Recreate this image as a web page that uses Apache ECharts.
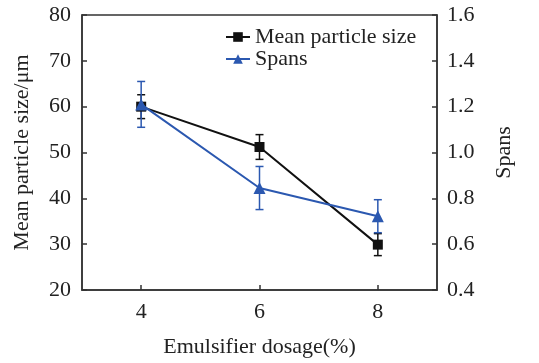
<!DOCTYPE html>
<html><head><meta charset="utf-8">
<script src="https://cdn.jsdelivr.net/npm/echarts@6/dist/echarts.min.js"></script>
<style>html,body{margin:0;padding:0;background:#fff}#c{width:539px;height:363px}</style>
</head><body><div id="c"></div>
<script>
const dosage = [4, 6, 8];
const xTicks = [4, 6, 8];
const meanSize = [60, 51.2, 29.9];
const meanSizeErr = [2.6, 2.7, 2.4];
const spans = [1.21, 0.845, 0.722];
const spansErr = [0.10, 0.094, 0.072];
const leftTicks = [20, 30, 40, 50, 60, 70, 80];
const rightTicks = [0.4, 0.6, 0.8, 1.0, 1.2, 1.4, 1.6];

const FONT = 'Liberation Serif';
const FS = 22;
const BLUE = '#2b58b0';

function errSeries(name, vals, errs, color, yIdx) {
  return {
    name: name + '_err', type: 'custom', yAxisIndex: yIdx, silent: true, z: 1,
    data: dosage.map((d, i) => [d, vals[i] - errs[i], vals[i] + errs[i]]),
    renderItem: function (params, api) {
      const lo = api.coord([api.value(0), api.value(1)]);
      const hi = api.coord([api.value(0), api.value(2)]);
      const w = 4;
      const st = { stroke: color, lineWidth: 1.5 };
      return { type: 'group', children: [
        { type: 'line', shape: { x1: lo[0], y1: lo[1], x2: hi[0], y2: hi[1] }, style: st },
        { type: 'line', shape: { x1: lo[0] - w, y1: lo[1], x2: lo[0] + w, y2: lo[1] }, style: st },
        { type: 'line', shape: { x1: hi[0] - w, y1: hi[1], x2: hi[0] + w, y2: hi[1] }, style: st }
      ]};
    }
  };
}

const chart = echarts.init(document.getElementById('c'), null, { renderer: 'canvas' });
chart.setOption({
  animation: false,
  textStyle: { fontFamily: FONT },
  grid: { left: 82, right: 102, top: 15, bottom: 72, show: true, borderColor: '#333', borderWidth: 1.5, backgroundColor: 'transparent' },
  legend: {
    orient: 'vertical', left: 220, top: 21, itemWidth: 24, itemHeight: 12, itemGap: 0,
    textStyle: { fontFamily: FONT, fontSize: FS, color: '#222' },
    data: ['Mean particle size', 'Spans']
  },
  xAxis: {
    type: 'value', min: 3, max: 9, interval: 1,
    name: 'Emulsifier dosage(%)', nameLocation: 'middle', nameGap: 46,
    nameTextStyle: { fontFamily: FONT, fontSize: FS, color: '#222' },
    axisLine: { show: true, lineStyle: { color: '#333', width: 1.5 } },
    axisTick: { show: true, inside: true, length: 5, customValues: xTicks, lineStyle: { color: '#333', width: 1.5 } },
    axisLabel: { customValues: xTicks, fontFamily: FONT, fontSize: FS, color: '#222', margin: 11 },
    splitLine: { show: false }
  },
  yAxis: [{
    type: 'value', min: 20, max: 80, interval: 10, position: 'left',
    name: 'Mean particle size/μm', nameLocation: 'middle', nameGap: 49, nameRotate: 90,
    nameTextStyle: { fontFamily: FONT, fontSize: FS, color: '#222' },
    axisLine: { show: true, lineStyle: { color: '#333', width: 1.5 } },
    axisTick: { show: true, inside: true, length: 5, lineStyle: { color: '#333', width: 1.5 } },
    axisLabel: { fontFamily: FONT, fontSize: FS, color: '#222', margin: 11 },
    splitLine: { show: false }
  }, {
    type: 'value', min: 0.4, max: 1.6, interval: 0.2, position: 'right',
    name: 'Spans', nameLocation: 'middle', nameGap: 56, nameRotate: 90,
    nameTextStyle: { fontFamily: FONT, fontSize: FS, color: '#222' },
    axisLine: { show: true, lineStyle: { color: '#333', width: 1.5 } },
    axisTick: { show: true, inside: true, length: 5, lineStyle: { color: '#333', width: 1.5 } },
    axisLabel: { fontFamily: FONT, fontSize: FS, color: '#222', margin: 10, formatter: v => v.toFixed(1) },
    splitLine: { show: false }
  }],
  series: [
    errSeries('Mean particle size', meanSize, meanSizeErr, '#111', 0),
    errSeries('Spans', spans, spansErr, BLUE, 1),
    {
      name: 'Mean particle size', type: 'line', yAxisIndex: 0, z: 3,
      data: dosage.map((d, i) => [d, meanSize[i]]),
      symbol: 'rect', symbolSize: 10,
      lineStyle: { color: '#111', width: 2 }, itemStyle: { color: '#111' }
    },
    {
      name: 'Spans', type: 'line', yAxisIndex: 1, z: 4,
      data: dosage.map((d, i) => [d, spans[i]]),
      symbol: 'triangle', symbolSize: 12,
      lineStyle: { color: BLUE, width: 2 }, itemStyle: { color: BLUE }
    }
  ]
});
</script></body></html>
